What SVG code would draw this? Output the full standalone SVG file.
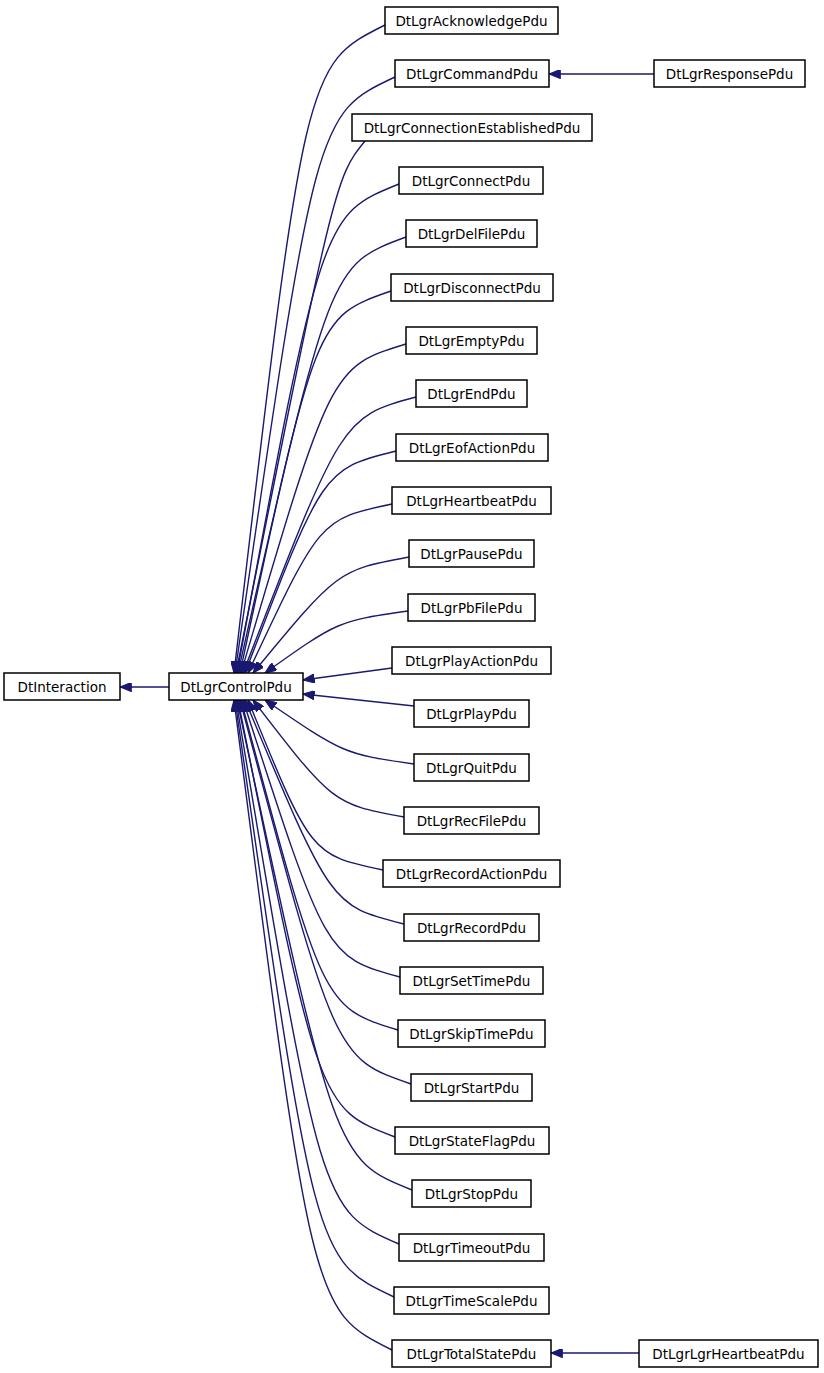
<svg xmlns="http://www.w3.org/2000/svg" width="824" height="1373" viewBox="0 0 824 1373">
<style>
.n rect{fill:#fff;stroke:#000;stroke-width:1.5}
.n text{font-family:"DejaVu Sans","Liberation Sans",sans-serif;font-size:13.5px;fill:#000;text-anchor:middle}
.e path{fill:none;stroke:#191970;stroke-width:1.4;marker-end:url(#ah)}
</style>
<defs>
<marker id="ah" markerUnits="userSpaceOnUse" viewBox="0 0 10 8" refX="10" refY="4" markerWidth="12" markerHeight="9" orient="auto">
<path d="M0,0 L10,4 L0,8 z" fill="#191970" stroke="#191970"/>
</marker>
</defs>
<rect width="824" height="1373" fill="#fff"/>
<g id="edges" class="e">
<path d="M169,687 L120,687"/>
<path d="M654,74 L549,74"/>
<path d="M639,1353 L551,1353"/>
<path d="M385,25 C305,65 305,65 234,673"/>
<path d="M395,77 C316,114 316,114 235,673"/>
<path d="M365,141 C335,178 335,178 236,673"/>
<path d="M399,184 C322,215 322,215 237,673"/>
<path d="M406,237 C330,265 330,265 238,673"/>
<path d="M391,291 C316,317 316,317 240,673"/>
<path d="M406,344 C331,367 331,367 241,673"/>
<path d="M416,397 C342,417 342,417 243,673"/>
<path d="M396,451 C323,469 323,469 245,673"/>
<path d="M392,504 C320,519 320,519 248,673"/>
<path d="M409,557 C338,570 338,570 253,673"/>
<path d="M408,611 C338,621 338,621 265,673"/>
<path d="M392,668 L303,680"/>
<path d="M414,706 L303,694"/>
<path d="M414,764 C344,754 344,754 265,700"/>
<path d="M404,817 C333,804 333,804 253,700"/>
<path d="M383,870 C311,855 311,855 248,700"/>
<path d="M404,924 C331,906 331,906 245,700"/>
<path d="M400,977 C326,957 326,957 243,700"/>
<path d="M398,1030 C323,1007 323,1007 241,700"/>
<path d="M411,1084 C335,1058 335,1058 240,700"/>
<path d="M395,1137 C319,1108 319,1108 238,700"/>
<path d="M412,1190 C335,1159 335,1159 237,700"/>
<path d="M399,1244 C321,1210 321,1210 236,700"/>
<path d="M394,1297 C315,1260 315,1260 235,700"/>
<path d="M392,1350 C312,1310 312,1310 234,700"/>
</g>
<g id="DtInteraction" class="n"><rect x="4" y="673" width="116" height="27"/><text x="62" y="691.5">DtInteraction</text></g>
<g id="DtLgrControlPdu" class="n"><rect x="169" y="673" width="134" height="27"/><text x="236" y="691.5">DtLgrControlPdu</text></g>
<g id="DtLgrAcknowledgePdu" class="n"><rect x="385" y="7" width="173" height="27"/><text x="471.5" y="25.5">DtLgrAcknowledgePdu</text></g>
<g id="DtLgrCommandPdu" class="n"><rect x="395" y="60" width="154" height="27"/><text x="472" y="78.5">DtLgrCommandPdu</text></g>
<g id="DtLgrResponsePdu" class="n"><rect x="654" y="60" width="151" height="27"/><text x="729.5" y="78.5">DtLgrResponsePdu</text></g>
<g id="DtLgrConnectionEstablishedPdu" class="n"><rect x="352" y="114" width="240" height="27"/><text x="472" y="132.5">DtLgrConnectionEstablishedPdu</text></g>
<g id="DtLgrConnectPdu" class="n"><rect x="399" y="167" width="144" height="27"/><text x="471" y="185.5">DtLgrConnectPdu</text></g>
<g id="DtLgrDelFilePdu" class="n"><rect x="406" y="220" width="131" height="27"/><text x="471.5" y="238.5">DtLgrDelFilePdu</text></g>
<g id="DtLgrDisconnectPdu" class="n"><rect x="391" y="274" width="162" height="27"/><text x="472" y="292.5">DtLgrDisconnectPdu</text></g>
<g id="DtLgrEmptyPdu" class="n"><rect x="406" y="327" width="131" height="27"/><text x="471.5" y="345.5">DtLgrEmptyPdu</text></g>
<g id="DtLgrEndPdu" class="n"><rect x="416" y="380" width="111" height="27"/><text x="471.5" y="398.5">DtLgrEndPdu</text></g>
<g id="DtLgrEofActionPdu" class="n"><rect x="396" y="434" width="152" height="27"/><text x="472" y="452.5">DtLgrEofActionPdu</text></g>
<g id="DtLgrHeartbeatPdu" class="n"><rect x="392" y="487" width="159" height="27"/><text x="471.5" y="505.5">DtLgrHeartbeatPdu</text></g>
<g id="DtLgrPausePdu" class="n"><rect x="409" y="540" width="125" height="27"/><text x="471.5" y="558.5">DtLgrPausePdu</text></g>
<g id="DtLgrPbFilePdu" class="n"><rect x="408" y="594" width="127" height="27"/><text x="471.5" y="612.5">DtLgrPbFilePdu</text></g>
<g id="DtLgrPlayActionPdu" class="n"><rect x="392" y="647" width="159" height="27"/><text x="471.5" y="665.5">DtLgrPlayActionPdu</text></g>
<g id="DtLgrPlayPdu" class="n"><rect x="414" y="700" width="115" height="27"/><text x="471.5" y="718.5">DtLgrPlayPdu</text></g>
<g id="DtLgrQuitPdu" class="n"><rect x="414" y="754" width="115" height="27"/><text x="471.5" y="772.5">DtLgrQuitPdu</text></g>
<g id="DtLgrRecFilePdu" class="n"><rect x="404" y="807" width="135" height="27"/><text x="471.5" y="825.5">DtLgrRecFilePdu</text></g>
<g id="DtLgrRecordActionPdu" class="n"><rect x="383" y="860" width="177" height="27"/><text x="471.5" y="878.5">DtLgrRecordActionPdu</text></g>
<g id="DtLgrRecordPdu" class="n"><rect x="404" y="914" width="135" height="27"/><text x="471.5" y="932.5">DtLgrRecordPdu</text></g>
<g id="DtLgrSetTimePdu" class="n"><rect x="400" y="967" width="143" height="27"/><text x="471.5" y="985.5">DtLgrSetTimePdu</text></g>
<g id="DtLgrSkipTimePdu" class="n"><rect x="398" y="1020" width="147" height="27"/><text x="471.5" y="1038.5">DtLgrSkipTimePdu</text></g>
<g id="DtLgrStartPdu" class="n"><rect x="411" y="1074" width="121" height="27"/><text x="471.5" y="1092.5">DtLgrStartPdu</text></g>
<g id="DtLgrStateFlagPdu" class="n"><rect x="395" y="1127" width="154" height="27"/><text x="472" y="1145.5">DtLgrStateFlagPdu</text></g>
<g id="DtLgrStopPdu" class="n"><rect x="412" y="1180" width="119" height="27"/><text x="471.5" y="1198.5">DtLgrStopPdu</text></g>
<g id="DtLgrTimeoutPdu" class="n"><rect x="399" y="1234" width="145" height="27"/><text x="471.5" y="1252.5">DtLgrTimeoutPdu</text></g>
<g id="DtLgrTimeScalePdu" class="n"><rect x="394" y="1287" width="155" height="27"/><text x="471.5" y="1305.5">DtLgrTimeScalePdu</text></g>
<g id="DtLgrTotalStatePdu" class="n"><rect x="392" y="1340" width="159" height="27"/><text x="471.5" y="1358.5">DtLgrTotalStatePdu</text></g>
<g id="DtLgrLgrHeartbeatPdu" class="n"><rect x="639" y="1340" width="179" height="27"/><text x="728.5" y="1358.5">DtLgrLgrHeartbeatPdu</text></g>
</svg>
